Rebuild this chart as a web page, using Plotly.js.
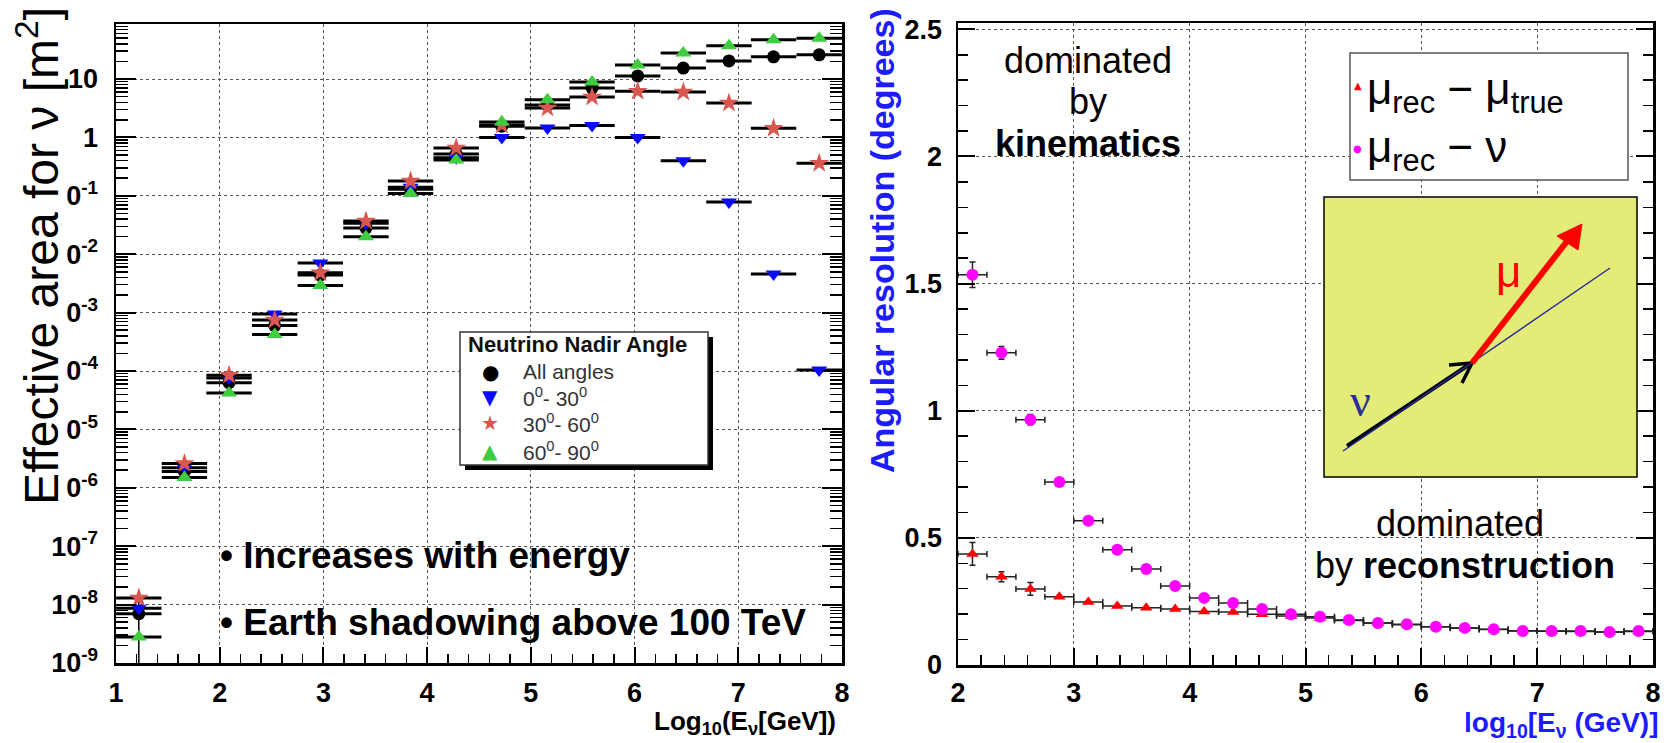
<!DOCTYPE html>
<html>
<head>
<meta charset="utf-8">
<script src="https://cdn.plot.ly/plotly-3.0.1.min.js"></script>
<style>html,body{margin:0;padding:0;background:#fff;}#chart{width:1672px;height:743px;}</style>
</head>
<body>
<div id="chart"></div>
<script>
// ---------- Left panel: effective area ----------
const areaLogE = [1.22,1.66,2.09,2.53,2.97,3.41,3.84,4.28,4.72,5.16,5.59,6.03,6.47,6.91,7.34,7.78];
const areaBinHalf = 0.21875;
const areaAll    = [7e-9, 1.9e-6, 6.3e-5, 6.0e-4, 4.4e-3, 0.028, 0.13, 0.52, 1.56, 3.6, 7.0, 11.3, 15.4, 20.4, 24, 26];
const area0_30   = [8.7e-9, 2.2e-6, 7.6e-5, 9.5e-4, 7.1e-3, 0.034, 0.14, 0.45, 1.0, 1.45, 1.6, 1.0, 0.40, 0.078, 4.6e-3, 1.04e-4];
const area30_60  = [1.3e-8, 2.6e-6, 8.5e-5, 7.5e-4, 4.8e-3, 0.037, 0.18, 0.66, 1.63, 3.2, 4.9, 6.2, 6.0, 3.9, 1.44, 0.36];
const area60_90  = [2.8e-9, 1.5e-6, 4.2e-5, 4.2e-4, 2.9e-3, 0.020, 0.11, 0.41, 1.83, 4.4, 8.9, 17.4, 28, 37, 47, 50];
const areaAllErrUp   = [1.08e-8,0,0,0,0,0,0,0,0,0,0,0,0,0,0,0];
const areaAllErrDown = [6.9e-9,0,0,0,0,0,0,0,0,0,0,0,0,0,0,0];
const areaTickVals = [1e-9,1e-8,1e-7,1e-6,1e-5,1e-4,1e-3,1e-2,1e-1,1,10];
const areaTickText = ['10<sup>-9</sup>','10<sup>-8</sup>','10<sup>-7</sup>','0<sup>-6</sup>','0<sup>-5</sup>','0<sup>-4</sup>','0<sup>-3</sup>','0<sup>-2</sup>','0<sup>-1</sup>','1','10'];
const legendLabels = ['All angles','0<sup>0</sup>- 30<sup>0</sup>','30<sup>0</sup>- 60<sup>0</sup>','60<sup>0</sup>- 90<sup>0</sup>'];

// ---------- Right panel: angular resolution ----------
const resLogE = [2.125,2.375,2.625,2.875,3.125,3.375,3.625,3.875,4.125,4.375,4.625,4.875,5.125,5.375,5.625,5.875,6.125,6.375,6.625,6.875,7.125,7.375,7.625,7.875];
const resBinHalf = 0.125;
const resMuTrue = [0.437,0.347,0.299,0.268,0.248,0.232,0.225,0.220,0.210,0.208,0.200,0.193,0.185,0.175,0.165,0.158,0.150,0.145,0.140,0.135,0.133,0.132,0.130,0.132];
const resMuTrueErr = [0.045,0.02,0.025,0,0,0,0,0,0,0,0,0,0,0,0,0,0,0,0,0,0,0,0,0];
const resMuNu = [1.535,1.228,0.965,0.720,0.567,0.453,0.378,0.311,0.264,0.244,0.220,0.200,0.190,0.177,0.165,0.160,0.150,0.146,0.141,0.134,0.134,0.134,0.130,0.134];
const resMuNuErr = [0.05,0.025,0.02,0,0,0,0,0,0,0,0,0,0,0,0,0,0,0,0,0,0,0,0,0];

const W = 1672, H = 743;
const px = x => x / W;
const py = y => 1 - y / H;
const SANS = 'Liberation Sans, Arial, sans-serif';

const minorLog = [];
for (let e = -9; e <= 1; e++) for (let d = 2; d <= 9; d++) minorLog.push(d * Math.pow(10, e));

function hbar(th){ return {type:'constant', value:areaBinHalf, width:0, thickness:th, color:'#000'}; }

const traces = [
  {x: areaLogE, y: areaAll, type:'scatter', mode:'markers', xaxis:'x', yaxis:'y', name:'All angles',
   marker:{symbol:'circle', size:13, color:'#000'}, error_x: hbar(3),
   error_y:{type:'data', symmetric:false, array:areaAllErrUp, arrayminus:areaAllErrDown, width:0, thickness:1.5, color:'#000'}},
  {x: areaLogE, y: area0_30, type:'scatter', mode:'markers', xaxis:'x', yaxis:'y', name:'0-30',
   marker:{symbol:'triangle-down', size:14, color:'#0a0aff'}, error_x: hbar(3)},
  {x: areaLogE, y: area30_60, type:'scatter', mode:'markers', xaxis:'x', yaxis:'y', name:'30-60',
   marker:{symbol:'star', size:15, color:'#d9574f'}, error_x: hbar(3)},
  {x: areaLogE, y: area60_90, type:'scatter', mode:'markers', xaxis:'x', yaxis:'y', name:'60-90',
   marker:{symbol:'triangle-up', size:14, color:'#3fcc3f'}, error_x: hbar(3)},
  {x: resLogE, y: resMuTrue, type:'scatter', mode:'markers', xaxis:'x2', yaxis:'y2', name:'mu rec - mu true',
   marker:{symbol:'triangle-up', size:11, color:'#ff0000'},
   error_x:{type:'constant', value:resBinHalf, width:3, thickness:1.5, color:'#222'},
   error_y:{type:'data', array:resMuTrueErr, width:3, thickness:1.5, color:'#222'}},
  {x: resLogE, y: resMuNu, type:'scatter', mode:'markers', xaxis:'x2', yaxis:'y2', name:'mu rec - nu',
   marker:{symbol:'circle', size:12, color:'#ff00ff'},
   error_x:{type:'constant', value:resBinHalf, width:3, thickness:1.5, color:'#222'},
   error_y:{type:'data', array:resMuNuErr, width:3, thickness:1.5, color:'#222'}}
];

const layout = {
  width: W, height: H,
  margin:{l:0,r:0,t:0,b:0},
  paper_bgcolor:'#fff', plot_bgcolor:'#fff',
  showlegend:false,
  xaxis:{domain:[px(116), px(842)], range:[1,8], anchor:'y',
    tickmode:'array', tickvals:[1,2,3,4,5,6,7,8], ticktext:['1','2','3','4','5','6','7','8'],
    ticks:'inside', ticklen:16, tickwidth:2, tickcolor:'#000',
    minor:{tickmode:'linear', tick0:1, dtick:0.2, ticks:'inside', ticklen:9, tickwidth:1.5, tickcolor:'#000', showgrid:false},
    showgrid:true, gridcolor:'#555', griddash:'dot', gridwidth:1,
    showline:true, linecolor:'#000', linewidth:2.5, mirror:true, zeroline:false,
    tickfont:{family:SANS, size:27, color:'#000', weight:'bold'}, ticklabelstandoff:4},
  yaxis:{domain:[py(663), py(24)], type:'log', range:[-9, 1.942], anchor:'x',
    tickmode:'array', tickvals:areaTickVals, ticktext:areaTickText,
    ticks:'inside', ticklen:20, tickwidth:2, tickcolor:'#000',
    minor:{tickmode:'array', tickvals:minorLog, ticks:'inside', ticklen:12, tickwidth:1.5, tickcolor:'#000', showgrid:false},
    showgrid:true, gridcolor:'#555', griddash:'dot', gridwidth:1,
    showline:true, linecolor:'#000', linewidth:2.5, mirror:'ticks', zeroline:false,
    tickfont:{family:SANS, size:27, color:'#000', weight:'bold'}, ticklabelstandoff:10},
  xaxis2:{domain:[px(958), px(1653)], range:[2,8], anchor:'y2',
    tickmode:'array', tickvals:[2,3,4,5,6,7,8], ticktext:['2','3','4','5','6','7','8'],
    ticks:'inside', ticklen:17, tickwidth:2, tickcolor:'#000',
    minor:{tickmode:'linear', tick0:2, dtick:0.2, ticks:'inside', ticklen:10, tickwidth:1.5, tickcolor:'#000', showgrid:false},
    showgrid:true, gridcolor:'#555', griddash:'dot', gridwidth:1,
    showline:true, linecolor:'#000', linewidth:2.5, mirror:true, zeroline:false,
    tickfont:{family:SANS, size:27, color:'#000', weight:'bold'}, ticklabelstandoff:2},
  yaxis2:{domain:[py(665), py(23)], range:[0, 2.525], anchor:'x2',
    tickmode:'array', tickvals:[0,0.5,1,1.5,2,2.5], ticktext:['0','0.5','1','1.5','2','2.5'],
    ticks:'inside', ticklen:17, tickwidth:2, tickcolor:'#000',
    minor:{tickmode:'linear', tick0:0, dtick:0.1, ticks:'inside', ticklen:10, tickwidth:1.5, tickcolor:'#000', showgrid:false},
    showgrid:true, gridcolor:'#555', griddash:'dot', gridwidth:1,
    showline:true, linecolor:'#000', linewidth:2.5, mirror:'ticks', zeroline:false,
    tickfont:{family:SANS, size:27, color:'#000', weight:'bold'}, ticklabelstandoff:8},
  shapes:[], annotations:[]
};

const S = layout.shapes, A = layout.annotations;
function rect(x0,y0,x1,y1,fill,lc,lw){ S.push({type:'rect', xref:'paper', yref:'paper', x0:px(x0), y0:py(y1), x1:px(x1), y1:py(y0), fillcolor:fill, line:{color:lc, width:lw}, layer:'above'}); }
function line(x0,y0,x1,y1,c,w){ S.push({type:'line', xref:'paper', yref:'paper', x0:px(x0), y0:py(y0), x1:px(x1), y1:py(y1), line:{color:c, width:w}, layer:'above'}); }
function txt(x,y,t,size,opts){ A.push(Object.assign({xref:'paper', yref:'paper', x:px(x), y:py(y), text:t, showarrow:false,
  font:{family:SANS, size:size, color:'#000'}, xanchor:'center', yanchor:'middle'}, opts||{})); }

// Left legend (ROOT style box with shadow)
rect(465, 337, 713, 470, '#000', '#000', 0);
rect(460, 332, 708, 465, '#fff', '#333', 1.5);
txt(466, 344, '<b>Neutrino Nadir Angle</b>', 22, {xanchor:'left', font:{family:SANS, size:22, color:'#111'}});
const legSyms = ['●','▼','★','▲'];
const legCols = ['#000','#0a0aff','#d9574f','#3fcc3f'];
const legY = [372, 397, 423, 451];
for (let i = 0; i < 4; i++) {
  txt(490, legY[i], legSyms[i], 20, {font:{family:'DejaVu Sans', size:20, color:legCols[i]}});
  txt(521, legY[i], legendLabels[i], 21, {xanchor:'left', font:{family:SANS, size:21, color:'#333'}});
}

// Left texts
txt(218, 555, '<b>• Increases with energy</b>', 37, {xanchor:'left'});
txt(218, 622, '<b>• Earth shadowing above 100 TeV</b>', 37, {xanchor:'left'});
txt(38, 256, 'Effective area for ν [m<sup>2</sup>]', 48, {textangle:-90});
txt(838, 722, '<b>Log<sub>10</sub>(E<sub>ν</sub>[GeV])</b>', 26, {xanchor:'right'});

// Right texts
txt(882, 241, '<b>Angular resolution (degrees)</b>', 34, {textangle:-90, font:{family:SANS, size:34, color:'#1c1cff'}});
txt(1660, 724, '<b>log<sub>10</sub>[E<sub>ν</sub> (GeV)]</b>', 28, {xanchor:'right', font:{family:SANS, size:28, color:'#1c1cff'}});
txt(1088, 60, 'dominated', 36);
txt(1088, 102, 'by', 36);
txt(1088, 143, '<b>kinematics</b>', 36);
txt(1460, 523, 'dominated', 36);
txt(1465, 565, 'by <b>reconstruction</b>', 36);

// Right legend
rect(1350, 53, 1628, 180, '#fff', '#555', 1.5);
txt(1358, 86, '▲', 10, {font:{family:'DejaVu Sans', size:10, color:'#ff0000'}});
txt(1357, 148, '●', 10, {font:{family:'DejaVu Sans', size:10, color:'#ff00ff'}});
txt(1365, 92, 'μ<sub>rec</sub> − μ<sub>true</sub>', 44, {xanchor:'left'});
txt(1365, 150, 'μ<sub>rec</sub> − ν', 44, {xanchor:'left'});

// Inset illustration
rect(1324, 197, 1637, 477, '#e3ec76', '#000', 1.5);
line(1347, 446, 1470, 364, '#000', 4);
line(1449, 365, 1472, 363, '#000', 3.5);
line(1462, 383, 1472, 363, '#000', 3.5);
line(1343, 451, 1610, 268, '#2b2b9b', 1.5);
line(1472, 363, 1568, 240, '#ff0000', 6);
S.push({type:'path', xref:'paper', yref:'paper', layer:'above', fillcolor:'#ff0000', line:{color:'#ff0000', width:1},
  path:'M '+px(1582)+' '+py(224)+' L '+px(1557)+' '+py(236)+' L '+px(1578)+' '+py(250)+' Z'});
txt(1508, 272, 'μ', 44, {font:{family:SANS, size:44, color:'#ff0000'}});
txt(1360, 400, 'ν', 46, {font:{family:'Liberation Serif', size:46, color:'#2b2b9b'}});

Plotly.newPlot('chart', traces, layout, {staticPlot:true, displayModeBar:false});
</script>
</body>
</html>
